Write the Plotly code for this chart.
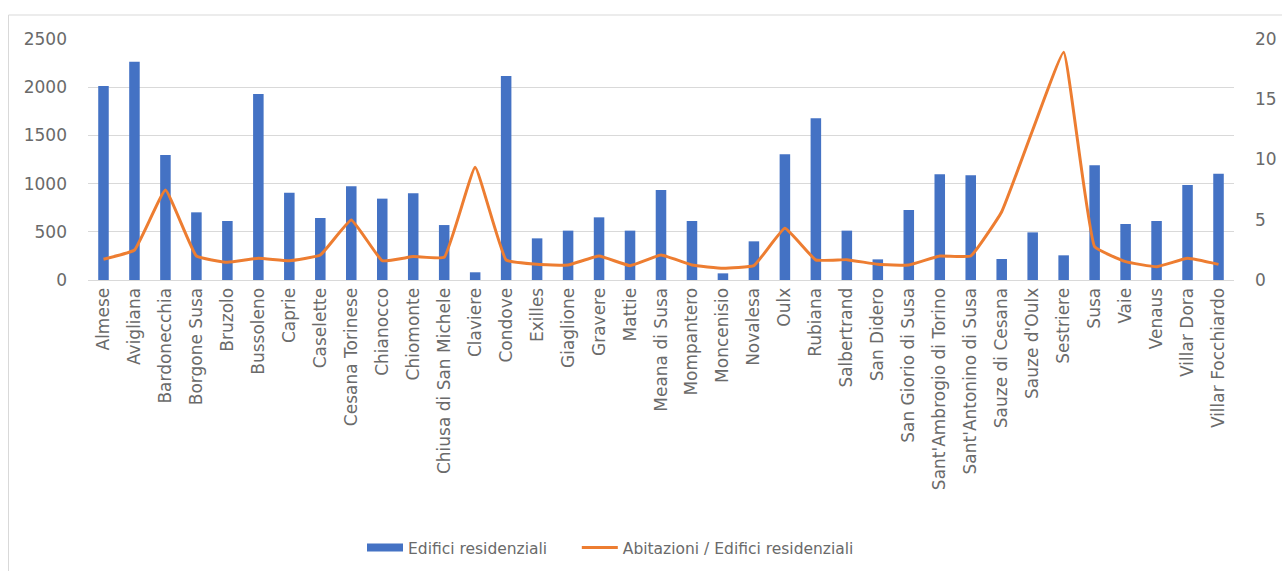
import plotly.graph_objects as go

comuni = [
    "Almese", "Avigliana", "Bardonecchia", "Borgone Susa", "Bruzolo", "Bussoleno",
    "Caprie", "Caselette", "Cesana Torinese", "Chianocco", "Chiomonte",
    "Chiusa di San Michele", "Claviere", "Condove", "Exilles", "Giaglione",
    "Gravere", "Mattie", "Meana di Susa", "Mompantero", "Moncenisio", "Novalesa",
    "Oulx", "Rubiana", "Salbertrand", "San Didero", "San Giorio di Susa",
    "Sant'Ambrogio di Torino", "Sant'Antonino di Susa", "Sauze di Cesana",
    "Sauze d'Oulx", "Sestriere", "Susa", "Vaie", "Venaus", "Villar Dora",
    "Villar Focchiardo",
]

edifici_residenziali = [
    2012, 2264, 1297, 702, 612, 1929, 906, 643, 972, 844, 899, 570, 80, 2116,
    432, 512, 650, 512, 934, 612, 69, 401, 1304, 1677, 512, 214, 726, 1096,
    1086, 218, 494, 256, 1190, 581, 612, 985, 1103,
]

abitazioni_per_edificio = [
    1.72, 2.49, 7.47, 1.99, 1.47, 1.80, 1.60, 2.07, 4.98, 1.60, 1.94, 1.88,
    9.35, 1.66, 1.30, 1.24, 1.99, 1.19, 2.07, 1.24, 0.97, 1.19, 4.29, 1.66,
    1.69, 1.30, 1.24, 1.99, 1.99, 5.67, 12.45, 18.9, 2.77, 1.52, 1.10, 1.80,
    1.30,
]

left_ticks = [0, 500, 1000, 1500, 2000, 2500]
right_ticks = [0, 5, 10, 15, 20]

BLUE = "#4472C4"
ORANGE = "#ED7D31"
TEXT = "#6A6A6A"
GRID = "#D9D9D9"
FONT = "DejaVu Sans, sans-serif"
GAP = "\u00a0" * 5  # extra room between the two legend entries

fig = go.Figure()
fig.add_trace(go.Bar(
    x=comuni, y=edifici_residenziali, name="Edifici residenziali",
    marker=dict(color=BLUE, line=dict(width=0)), yaxis="y",
    showlegend=False,
))
# legend entry for the bars, drawn as a wide block like the column key
fig.add_trace(go.Scatter(
    x=[None], y=[None], name="Edifici residenziali" + GAP, mode="lines",
    line=dict(color=BLUE, width=8), yaxis="y", hoverinfo="skip",
))
fig.add_trace(go.Scatter(
    x=comuni, y=abitazioni_per_edificio, name="Abitazioni / Edifici residenziali",
    mode="lines", line=dict(color=ORANGE, width=3, shape="spline", smoothing=0.3),
    yaxis="y2",
))

# plot area geometry in pixels (figure is 1282 x 571)
L, R, T, B = 88, 1234, 39, 280
W, H = 1282, 571
pw, ph = R - L, B - T


def px_to_paper(x, y):
    return (x - L) / pw, (B - y) / ph


x0, y0 = px_to_paper(8.5, 15)
x1, _ = px_to_paper(1300, 15)
_, y1 = px_to_paper(8.5, 600)

fig.update_layout(
    width=W, height=H,
    margin=dict(l=L, r=W - R, t=T, b=H - B, pad=0, autoexpand=False),
    paper_bgcolor="white", plot_bgcolor="white",
    font=dict(family=FONT, color=TEXT, size=16),
    bargap=0.66,
    showlegend=True,
    legend=dict(
        orientation="h", x=px_to_paper(362, 0)[0], xanchor="left",
        y=px_to_paper(0, 548)[1], yanchor="middle",
        font=dict(size=15.5, color=TEXT), itemwidth=36,
        traceorder="normal",
    ),
    xaxis=dict(
        type="category", tickangle=-90, showgrid=False, zeroline=False,
        showline=True, linecolor=GRID, linewidth=1, ticks="",
        tickfont=dict(size=17, color=TEXT), automargin=False,
    ),
    yaxis=dict(
        range=[0, 2500], tickvals=left_ticks, showgrid=True, gridcolor=GRID,
        gridwidth=1, zeroline=False, showline=False, ticks="",
        tickfont=dict(size=17, color=TEXT), ticklabelstandoff=20,
        automargin=False,
    ),
    yaxis2=dict(
        range=[0, 20], tickvals=right_ticks, overlaying="y", side="right",
        showgrid=False, zeroline=False, showline=False, ticks="",
        tickfont=dict(size=17, color=TEXT), ticklabelstandoff=20,
        automargin=False,
    ),
    shapes=[
        dict(type="line", xref="paper", yref="paper", x0=x0, x1=x1, y0=y0, y1=y0,
             line=dict(color=GRID, width=1)),
        dict(type="line", xref="paper", yref="paper", x0=x0, x1=x0, y0=y0, y1=y1,
             line=dict(color=GRID, width=1)),
    ],
)

fig.write_html("out.html")
